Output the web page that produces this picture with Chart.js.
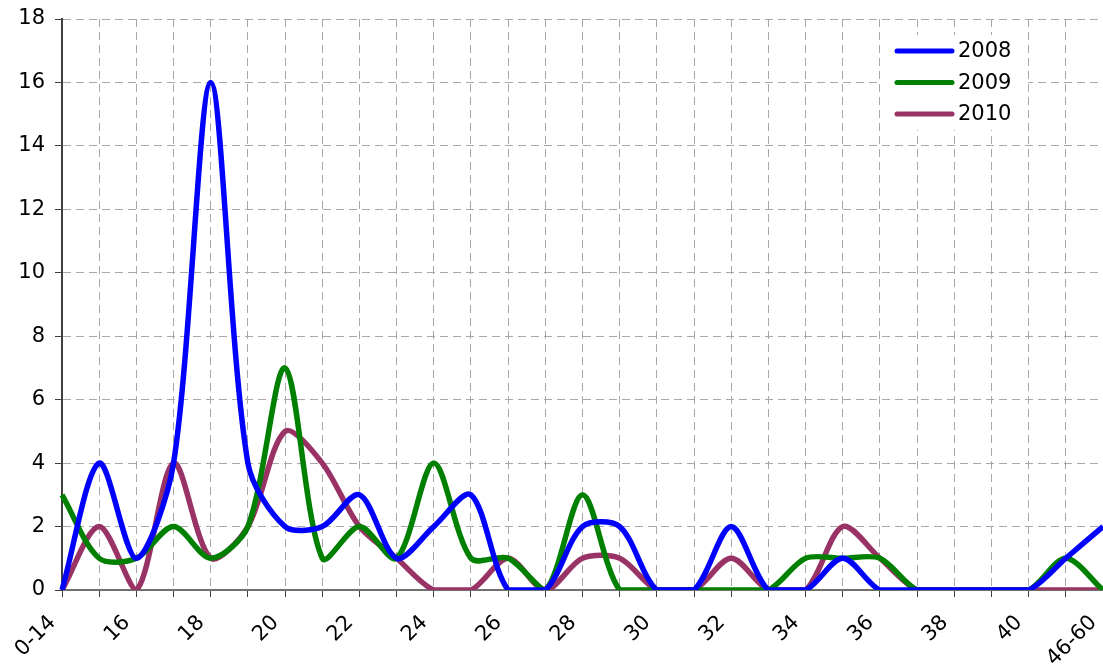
<!DOCTYPE html>
<html>
<head>
<meta charset="utf-8">
<script src="https://cdn.jsdelivr.net/npm/chart.js@4"></script>
<style>
    html, body { margin: 0; padding: 0; background: #fff; }
    #wrap { width: 1103px; height: 671px; }
</style>
</head>
<body>
<div id="wrap"><canvas id="chart" width="1103" height="671"></canvas></div>
<script>
// Age groups (every other one gets a label on the axis)
const ageLabels = ['0-14', '15', '16', '17', '18', '19', '20', '21', '22', '23', '24', '25',
    '26', '27', '28', '29', '30', '31', '32', '33', '34', '35', '36', '37', '38', '39', '40',
    '41-45', '46-60'];

const values2008 = [0, 4, 1, 4, 16, 4, 2, 2, 3, 1, 2, 3, 0, 0, 2, 2, 0, 0, 2, 0, 0, 1, 0, 0, 0, 0, 0, 1, 2];
const values2009 = [3, 1, 1, 2, 1, 2, 7, 1, 2, 1, 4, 1, 1, 0, 3, 0, 0, 0, 0, 0, 1, 1, 1, 0, 0, 0, 0, 1, 0];
const values2010 = [0, 2, 0, 4, 1, 2, 5, 4, 2, 1, 0, 0, 1, 0, 1, 1, 0, 0, 1, 0, 0, 2, 1, 0, 0, 0, 0, 0, 0];

const yTicks = { min: 0, max: 18, step: 2 };

const FONT = 'DejaVu Sans';

// Legend drawn inside the plot, top right
const insideLegend = {
    id: 'insideLegend',
    afterDatasetsDraw(chart) {
        const ctx = chart.ctx;
        ctx.save();
        ctx.fillStyle = '#fff';
        ctx.fillRect(880, 35, 148, 95);
        chart.data.datasets.forEach((ds, i) => {
            const y = 51 + i * 31.5;
            ctx.strokeStyle = ds.borderColor;
            ctx.lineWidth = 5;
            ctx.lineCap = 'round';
            ctx.beginPath();
            ctx.moveTo(897, y);
            ctx.lineTo(952, y);
            ctx.stroke();
            ctx.fillStyle = '#000';
            ctx.font = '21px "' + FONT + '"';
            ctx.textBaseline = 'middle';
            ctx.fillText(ds.label, 958, y + 1);
        });
        ctx.restore();
    }
};

function lineSet(label, data, color) {
    return {
        label: label,
        data: data,
        borderColor: color,
        backgroundColor: color,
        borderWidth: 5.5,
        pointRadius: 0,
        tension: 0.3,
        fill: false
    };
}

new Chart(document.getElementById('chart'), {
    type: 'line',
    data: {
        labels: ageLabels,
        datasets: [
            lineSet('2008', values2008, '#0000ff'),
            lineSet('2009', values2009, '#008000'),
            lineSet('2010', values2010, '#993366')
        ]
    },
    options: {
        responsive: false,
        animation: false,
        devicePixelRatio: 1,
        layout: { padding: { top: 19, right: 0, left: 0, bottom: 0 } },
        plugins: {
            legend: { display: false },
            tooltip: { enabled: false }
        },
        scales: {
            x: {
                grid: {
                    color: '#a8a8a8',
                    tickColor: '#404040',
                    tickLength: 7,
                    tickBorderDash: []
                },
                border: { color: '#707070', width: 2, dash: [8, 5] },
                ticks: {
                    autoSkip: false,
                    maxRotation: 45,
                    minRotation: 45,
                    padding: 4,
                    color: '#000',
                    font: { family: FONT, size: 21 },
                    callback: function (val, idx) {
                        // trailing spaces push the rotated label down-left of its tick
                        return idx % 2 === 0 ? this.getLabelForValue(val) + '  ' : '';
                    }
                },
                afterFit(scale) {
                    scale.height = 81;
                    scale.paddingLeft = 0;
                    scale.paddingRight = 0;
                }
            },
            y: {
                min: yTicks.min,
                max: yTicks.max,
                grid: {
                    color: '#a8a8a8',
                    tickColor: '#404040',
                    tickLength: 7,
                    tickBorderDash: []
                },
                border: { color: '#404040', width: 2, dash: [8, 5] },
                ticks: {
                    stepSize: yTicks.step,
                    padding: 10,
                    color: '#000',
                    font: { family: FONT, size: 21 }
                },
                afterFit(scale) {
                    scale.width = 62;
                    scale.paddingTop = 0;
                    scale.paddingBottom = 0;
                }
            }
        }
    },
    plugins: [insideLegend]
});
</script>
</body>
</html>
